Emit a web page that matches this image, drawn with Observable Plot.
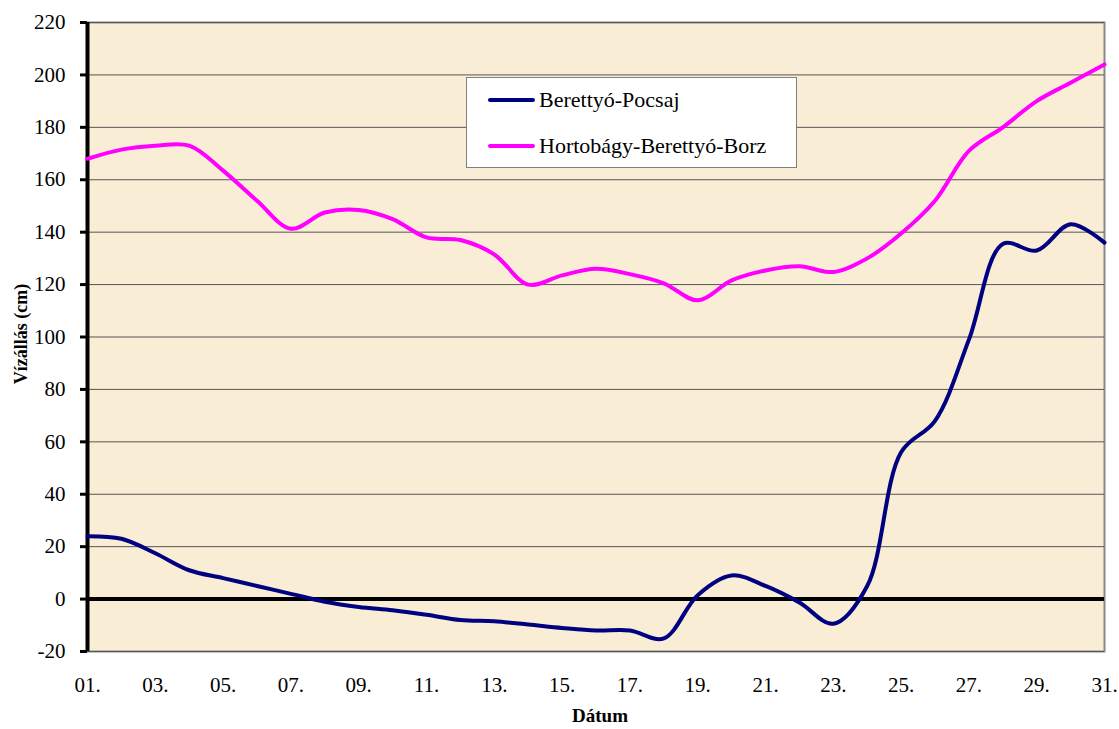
<!DOCTYPE html>
<html><head><meta charset="utf-8">
<script src="https://cdn.jsdelivr.net/npm/d3@7"></script>
<script src="https://cdn.jsdelivr.net/npm/@observablehq/plot@0.6"></script>
<style>
body{margin:0;background:#fff;}
#wrap{position:relative;width:1119px;height:729px;font-family:'Liberation Serif','Times New Roman','DejaVu Serif',serif;}
#wrap svg text{font-family:'Liberation Serif','Times New Roman','DejaVu Serif',serif !important;}
.legend{position:absolute;left:466px;top:77px;width:331px;height:91px;background:#fff;border:1px solid #808080;box-sizing:border-box;font-size:22px;color:#000;}
.legend .row{position:absolute;left:21px;height:26px;display:flex;align-items:center;}
.legend .sw{width:47px;height:4px;border-radius:2px;margin-right:4px;}
.ytitle{position:absolute;left:21px;top:334px;transform:translate(-50%,-50%) rotate(-90deg);font-weight:bold;font-size:18px;white-space:nowrap;}
.xtitle{position:absolute;left:600px;top:716px;transform:translate(-50%,-50%);font-weight:bold;font-size:19px;white-space:nowrap;}
</style></head><body><div id="wrap"></div>
<script>
const days = d3.range(1, 32);
const seriesNames = ["Berettyó-Pocsaj", "Hortobágy-Berettyó-Borz"];
const seriesColors = ["#000080", "#ff00ff"];
const pocsaj = [24, 23, 17.5, 11, 8, 5, 2, -1, -3, -4.3, -6, -8, -8.5, -9.7, -11, -12, -12, -15, 1.5, 9, 5, -1.3, -9.4, 5, 56, 68, 99, 135.5, 133, 143, 136];
const borz = [168, 171.5, 173, 173, 163.5, 152, 141.3, 147.5, 148.5, 145, 138, 137, 131.5, 120, 123.5, 126, 124, 120.5, 114, 121.6, 125.4, 127, 124.8, 130, 139.5, 152, 171, 180, 190, 197, 204];
const yTicks = d3.range(-20, 221, 20);
const xTicks = d3.range(1, 32, 2);

const data = [];
days.forEach((d, i) => {
  data.push({day: d, value: pocsaj[i], series: seriesNames[0]});
  data.push({day: d, value: borz[i], series: seriesNames[1]});
});

const chart = Plot.plot({
  width: 1119, height: 729,
  marginLeft: 87, marginRight: 15, marginTop: 22, marginBottom: 78,
  style: {fontSize: "21px", color: "#000", background: "transparent"},
  x: {domain: [1, 31]},
  y: {domain: [-20, 220]},
  color: {domain: seriesNames, range: seriesColors},
  marks: [
    Plot.frame({fill: "#faedd5", stroke: "#888", strokeWidth: 2}),
    Plot.gridY(yTicks, {stroke: "#555", strokeOpacity: 1, strokeWidth: 1}),
    Plot.ruleY([0], {stroke: "#000", strokeWidth: 4}),
    Plot.ruleX([1], {stroke: "#000", strokeWidth: 4}),
    Plot.axisY(yTicks, {tickSize: 7, tickPadding: 15, strokeWidth: 3, label: null, fontSize: 21, tickFormat: d => String(d)}),
    Plot.axisX(xTicks, {tickSize: 0, tickPadding: 26, label: null, fontSize: 21,
      tickFormat: d => String(d).padStart(2, "0") + "."}),
    Plot.line(data, {x: "day", y: "value", z: "series", stroke: "series", strokeWidth: 4, curve: "catmull-rom"})
  ]
});

const wrap = document.getElementById("wrap");
wrap.appendChild(chart);

const leg = document.createElement("div");
leg.className = "legend";
seriesNames.forEach((n, i) => {
  const row = document.createElement("div");
  row.className = "row";
  row.style.top = (i === 0 ? 9 : 55) + "px";
  const sw = document.createElement("div");
  sw.className = "sw";
  sw.style.background = seriesColors[i];
  row.appendChild(sw);
  const t = document.createElement("span");
  t.textContent = n;
  row.appendChild(t);
  leg.appendChild(row);
});
wrap.appendChild(leg);

const yt = document.createElement("div");
yt.className = "ytitle"; yt.textContent = "Vízállás (cm)";
wrap.appendChild(yt);
const xt = document.createElement("div");
xt.className = "xtitle"; xt.textContent = "Dátum";
wrap.appendChild(xt);
</script>
</body></html>
